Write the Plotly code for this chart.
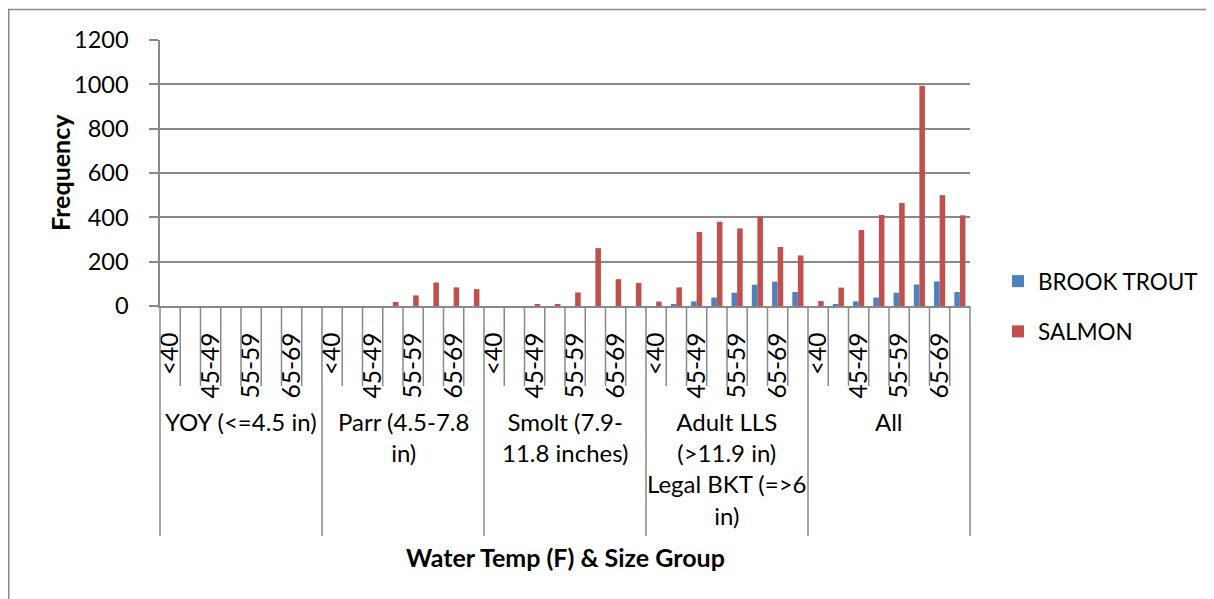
import plotly.graph_objects as go

# ---------------- data ----------------
group_labels = [
    "YOY (<=4.5 in)",
    "Parr (4.5-7.8<br>in)",
    "Smolt (7.9-<br>11.8 inches)",
    "Adult LLS<br>(>11.9 in)<br>Legal BKT (=>6<br>in)",
    "All",
]
temp_bins = ["<40", "40-44", "45-49", "50-54", "55-59", "60-64", "65-69", ">70"]
shown_bins = ["<40", "45-49", "55-59", "65-69"]

brook_trout = [
    0, 0, 0, 0, 0, 0, 0, 0,          # YOY
    0, 0, 0, 0, 0, 0, 0, 0,          # Parr
    0, 0, 0, 0, 0, 0, 0, 0,          # Smolt
    0, 5, 21, 38, 60, 96, 110, 63,   # Adult / Legal
    0, 5, 21, 38, 60, 97, 111, 63,   # All
]
salmon = [
    0, 0, 0, 0, 0, 0, 0, 0,              # YOY
    0, 0, 0, 18, 48, 106, 84, 76,        # Parr
    0, 0, 5, 9, 61, 261, 121, 104,       # Smolt
    20, 84, 334, 380, 350, 405, 266, 228,  # Adult / Legal
    22, 83, 343, 411, 465, 994, 500, 409,  # All
]
series_names = ["BROOK TROUT", "SALMON"]
series_colors = ["#4F81BD", "#C0504D"]

# ---------------- layout constants ----------------
W, H = 1214, 599
OFF = 8                               # page body margin
# plot area in on-screen pixels
SL, SR, ST, SB = 160, 970, 40, 306
PL, PR, PT, PB = SL - OFF, SR - OFF, ST - OFF, SB - OFF
FONT = "Lato, 'Open Sans', sans-serif"
GRAY = "#898989"


def px_x(p):
    """screen pixel -> paper x"""
    return (p - OFF - PL) / (PR - PL)


def px_y(p):
    """screen pixel -> paper y"""
    return (PB - (p - OFF)) / (PB - PT)


n_groups = len(group_labels)
n_bins = len(temp_bins)
n_cat = n_groups * n_bins
xs = list(range(n_cat))

fig = go.Figure()
for name, vals, col in zip(series_names, [brook_trout, salmon], series_colors):
    fig.add_trace(go.Bar(
        x=xs, y=vals, name=name, marker=dict(color=col, line=dict(width=0)),
        legendgroup=name,
    ))

tickvals = [g * n_bins + temp_bins.index(b) for g in range(n_groups) for b in shown_bins]
ticktext = [b for g in range(n_groups) for b in shown_bins]

shapes = []
for k in range(n_cat + 1):
    is_group = (k % n_bins == 0)
    shapes.append(dict(
        type="line", xref="paper", yref="paper",
        x0=k / n_cat, x1=k / n_cat,
        y0=0, y1=px_y(536 if is_group else 386),
        line=dict(color=GRAY, width=1.5),
    ))
shapes.append(dict(
    type="rect", xref="paper", yref="paper",
    x0=px_x(OFF + 0.75), x1=px_x(W + 40), y0=px_y(H + 40), y1=px_y(OFF + 1.5),
    line=dict(color=GRAY, width=1.5), fillcolor="rgba(0,0,0,0)", layer="below",
))

annotations = []
for g, lab in enumerate(group_labels):
    annotations.append(dict(
        text=lab, xref="paper", yref="paper",
        x=(g * n_bins + n_bins / 2) / n_cat, y=px_y(405),
        xanchor="center", yanchor="top", showarrow=False,
        font=dict(family=FONT, size=24, color="black"), align="center",
    ))
annotations.append(dict(
    text="<b>Water Temp (F) & Size Group</b>", xref="paper", yref="paper",
    x=0.5, y=px_y(557), xanchor="center", yanchor="middle", showarrow=False,
    font=dict(family=FONT, size=25, color="black"),
))
annotations.append(dict(
    text="<b>Frequency</b>", xref="paper", yref="paper",
    x=px_x(60), y=0.5, xanchor="center", yanchor="middle", showarrow=False,
    textangle=-90, font=dict(family=FONT, size=25, color="black"),
))

fig.update_layout(
    width=W, height=H,
    margin=dict(l=PL, r=W - PR, t=PT, b=H - PB, autoexpand=False),
    paper_bgcolor="white", plot_bgcolor="white",
    font=dict(family=FONT, size=23, color="black"),
    barmode="group", bargap=0.45, bargroupgap=0,
    showlegend=True,
    legend=dict(
        x=px_x(998), y=px_y(260), xanchor="left", yanchor="top",
        font=dict(family=FONT, size=22.5, color="black"),
        traceorder="grouped", tracegroupgap=18,
        bgcolor="rgba(0,0,0,0)",
    ),
    xaxis=dict(
        range=[-0.5, n_cat - 0.5], tickmode="array", tickvals=tickvals, ticktext=ticktext,
        tickangle=-90, ticks="", showgrid=False, zeroline=False,
        showline=True, linecolor=GRAY, linewidth=1.5, ticklabelstandoff=15,
        tickfont=dict(family=FONT, size=24.5, color="black"),
    ),
    yaxis=dict(
        range=[0, 1200], dtick=200, tick0=0, showgrid=True, gridcolor=GRAY, gridwidth=1.5,
        zeroline=False, showline=True, linecolor=GRAY, linewidth=1.5,
        ticks="outside", ticklen=9, tickcolor=GRAY, tickwidth=1.5, ticklabelstandoff=16,
        tickfont=dict(family=FONT, size=23.5, color="black"),
    ),
    shapes=shapes, annotations=annotations,
)

fig.write_html("out.html")
